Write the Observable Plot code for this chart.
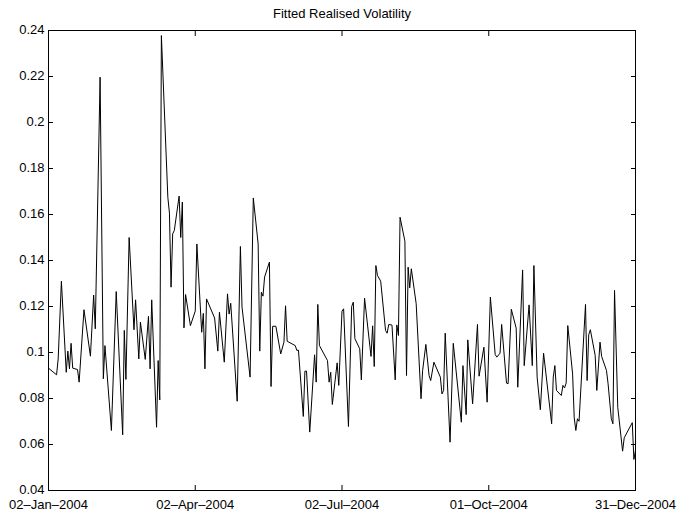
<!DOCTYPE html>
<html>
<head>
<meta charset="utf-8">
<script src="https://cdn.jsdelivr.net/npm/d3@7"></script>
<script src="https://cdn.jsdelivr.net/npm/@observablehq/plot@0.6"></script>
<style>
  html, body { margin: 0; padding: 0; background: #fff; }
  #chart svg { display: block; }
</style>
</head>
<body>
<div id="chart"></div>
<script>
const chartTitle = "Fitted Realised Volatility";
const startDate = "2004-01-02";
const endDate = "2004-12-31";

// days since 02-Jan-2004 for each observation vertex
const daysSinceStart = [
  0,5,6,8,11,12,13,14,15,18,
  19,22,26,28,29,32,34,35,39,42,
  46,47,48,50,53,54,56,57,60,62,
  63,64,67,68,69,70,74,75,76,77,
  78,81,82,83,84,85,88,91,92,95,
  96,97,98,103,105,106,109,111,112,113,
  117,119,120,125,127,130,131,132,133,134,
  137,138,139,141,144,146,147,148,153,154,
  155,158,159,160,162,165,166,167,168,173,
  174,175,176,179,180,182,183,186,188,189,
  190,193,194,196,200,201,202,203,204,206,
  209,210,211,213,215,216,217,218,221,222,
  223,224,225,228,231,232,234,236,237,239,
  243,244,245,246,249,251,256,257,259,260,
  263,266,267,270,272,274,277,278,280,281,
  284,285,287,290,291,294,295,298,300,301,
  303,305,307,312,313,314,315,318,319,320,
  321,322,325,326,327,328,329,333,334,335,
  336,339,340,342,343,346,347,349,350,351,
  353,356,357,362,363,364
];

const volatility = [
  0.0932,0.0903,0.0972,0.131,0.0914,0.1006,0.0929,0.104,0.0932,0.0926,
  0.0871,0.1186,0.0984,0.125,0.1103,0.2197,0.0886,0.103,0.0661,0.1265,
  0.0642,0.1096,0.0883,0.150,0.1099,0.1229,0.0972,0.1132,0.097,0.1157,
  0.0929,0.1229,0.0675,0.0965,0.0794,0.2378,0.1675,0.1606,0.1284,0.1516,
  0.153,0.168,0.150,0.1654,0.1107,0.1252,0.1117,0.118,0.1472,0.1088,
  0.117,0.0929,0.1233,0.115,0.1006,0.1175,0.0958,0.1255,0.1167,0.1214,
  0.0788,0.1461,0.1197,0.0893,0.1672,0.1472,0.1006,0.1262,0.1245,0.1328,
  0.1393,0.0852,0.1114,0.1114,0.0994,0.1045,0.1203,0.1049,0.103,0.1009,
  0.101,0.0722,0.0919,0.0919,0.0654,0.099,0.0871,0.1209,0.103,0.0965,
  0.0871,0.0914,0.0774,0.0955,0.0857,0.118,0.119,0.0678,0.12,0.1219,
  0.106,0.1016,0.0881,0.1236,0.0983,0.1116,0.0939,0.1378,0.1335,0.131,
  0.1096,0.1084,0.1122,0.1119,0.0881,0.112,0.1074,0.1588,0.1484,0.09,
  0.1371,0.1281,0.1364,0.1212,0.0799,0.0922,0.1035,0.09,0.0878,0.0958,
  0.0893,0.082,0.0835,0.1084,0.061,0.104,0.0697,0.0943,0.073,0.1055,
  0.0777,0.1122,0.0897,0.1023,0.0784,0.1241,0.0991,0.098,0.0997,0.1122,
  0.0867,0.0864,0.1188,0.1106,0.0849,0.1359,0.0943,0.1207,0.0943,0.1378,
  0.0893,0.0751,0.0997,0.069,0.0893,0.0943,0.0835,0.0813,0.0857,0.0846,
  0.0867,0.1117,0.0907,0.0716,0.0661,0.0712,0.0701,0.1209,0.0878,0.1077,
  0.1099,0.0987,0.0835,0.1045,0.0983,0.0922,0.0864,0.0712,0.069,0.127,
  0.0762,0.0571,0.0629,0.0695,0.0535,0.0575
];

const xTickDates = ["2004-01-02","2004-04-02","2004-07-02","2004-10-01","2004-12-31"];
const xTickLabels = ["02–Jan–2004","02–Apr–2004","02–Jul–2004","01–Oct–2004","31–Dec–2004"];
const yTicks = [0.04,0.06,0.08,0.1,0.12,0.14,0.16,0.18,0.2,0.22,0.24];
const yTickLabels = ["0.04","0.06","0.08","0.1","0.12","0.14","0.16","0.18","0.2","0.22","0.24"];

const t0 = new Date(startDate + "T00:00:00Z");
const data = daysSinceStart.map((d, i) => ({date: d3.utcDay.offset(t0, d), value: volatility[i]}));
const xTicks = xTickDates.map(s => new Date(s + "T00:00:00Z"));
const xLabelOf = new Map(xTicks.map((d, i) => [+d, xTickLabels[i]]));
const yLabelOf = new Map(yTicks.map((v, i) => [v, yTickLabels[i]]));

const font = "'Liberation Sans', Arial, Helvetica, sans-serif";

const chart = Plot.plot({
  width: 691,
  height: 511,
  marginTop: 30,
  marginBottom: 21,
  marginLeft: 48,
  marginRight: 56,
  style: {fontFamily: font, fontSize: "13px", color: "black", background: "white"},
  x: {type: "utc", domain: [t0, new Date(endDate + "T00:00:00Z")]},
  y: {domain: [0.04, 0.24]},
  marks: [
    Plot.axisY({ticks: yTicks, tickSize: 0, tickPadding: 4, dy: -1, tickFormat: v => yLabelOf.get(v), label: null, fontSize: 13}),
    Plot.axisY({ticks: yTicks, anchor: "left", tickSize: 5, dx: 5, fill: "none", label: null}),
    Plot.axisY({ticks: yTicks, anchor: "right", tickSize: 5, dx: -5, fill: "none", label: null}),
    Plot.axisX({ticks: xTicks, tickSize: 0, tickPadding: 9, tickFormat: d => xLabelOf.get(+d), label: null, fontSize: 13}),
    Plot.axisX({ticks: xTicks, anchor: "bottom", tickSize: 5, dy: -5, fill: "none", label: null}),
    Plot.axisX({ticks: xTicks, anchor: "top", tickSize: 5, dy: 5, fill: "none", label: null}),
    Plot.lineY(data, {x: "date", y: "value", stroke: "black", strokeWidth: 1}),
    Plot.frame({stroke: "black", strokeWidth: 1}),
    Plot.text([chartTitle], {frameAnchor: "top", dy: -22, fontSize: 13, fill: "black"})
  ]
});
document.getElementById("chart").append(chart);
</script>
</body>
</html>
